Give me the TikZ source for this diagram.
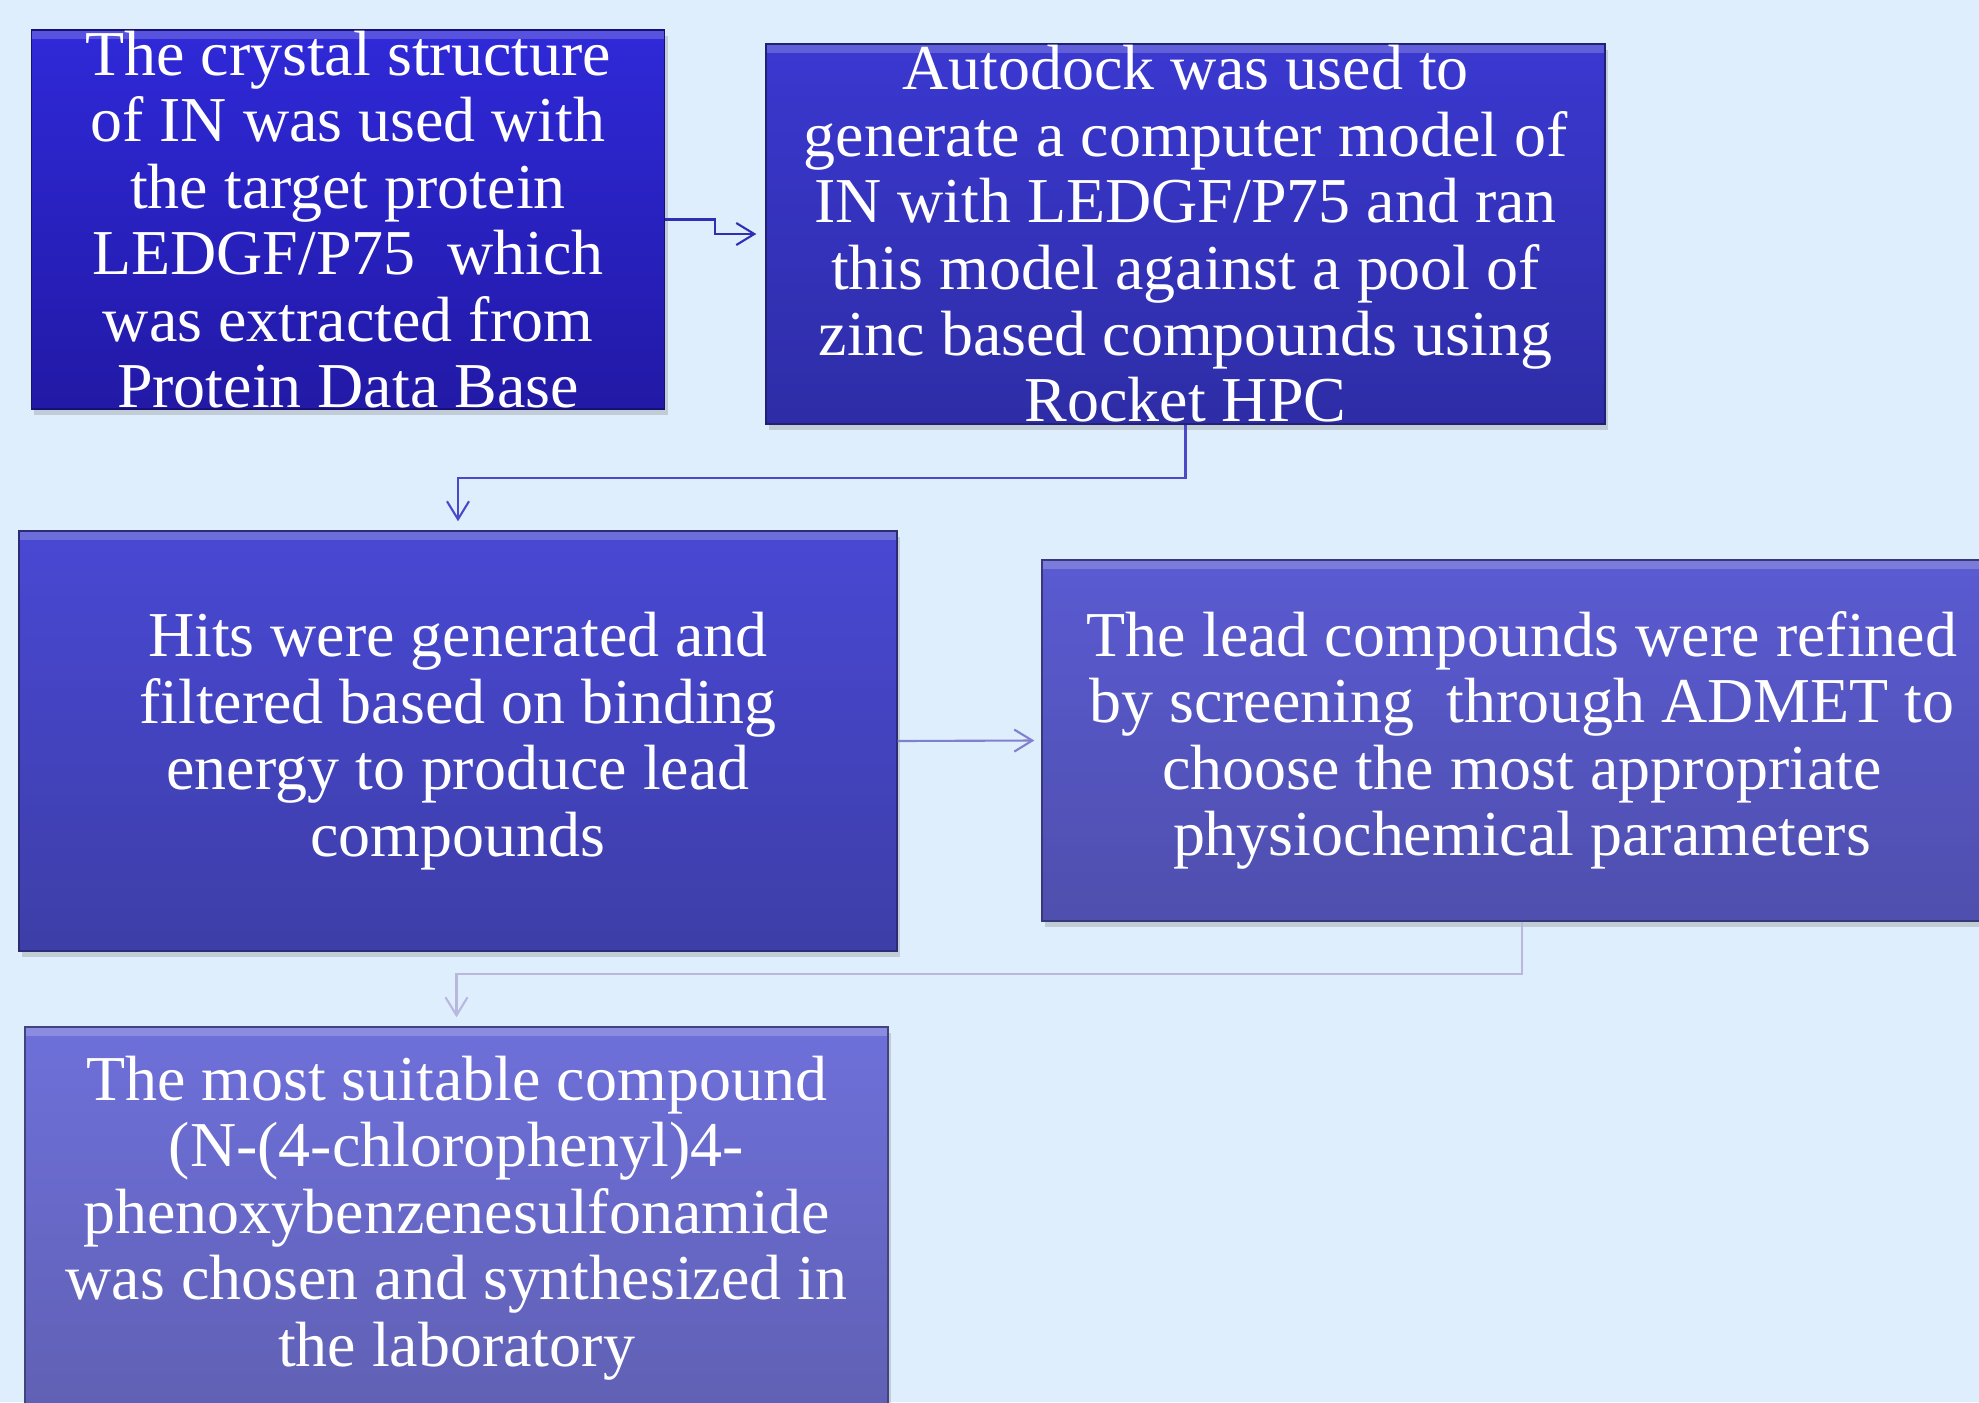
\documentclass[tikz,border=0pt]{standalone}
\usepackage{fontspec}
\setmainfont{Liberation Serif}
\usetikzlibrary{positioning, arrows.meta, shadows}
\definecolor{bgblue}{HTML}{DEEEFD}
\definecolor{oneTop}{HTML}{2F29D8}
\definecolor{oneBot}{HTML}{2219A6}
\definecolor{twoTop}{HTML}{3A38D0}
\definecolor{twoBot}{HTML}{2E2DA6}
\definecolor{threeTop}{HTML}{4848D4}
\definecolor{threeBot}{HTML}{3E3EA8}
\definecolor{fourTop}{HTML}{5A5AD2}
\definecolor{fourBot}{HTML}{4F4FAE}
\definecolor{fiveTop}{HTML}{6E70DA}
\definecolor{fiveBot}{HTML}{6060B4}
\newcommand{\boxfont}{\fontsize{18.2}{18.9}\selectfont}

\begin{document}
\begin{tikzpicture}[
		x=1cm, y=-1cm,
		box/.style n args={2}{draw=#2!70!black, line width=0.4pt, rectangle, align=center, text=white, font=\boxfont, inner sep=0pt, top color=#1, bottom color=#2,
			execute at begin node={\rule{0pt}{15.8pt}},
			drop shadow={opacity=0.3, shadow xshift=0.03cm, shadow yshift=-0.06cm},
			path picture={\fill[white, opacity=0.2] (path picture bounding box.north west) rectangle ([yshift=-0.09cm]path picture bounding box.north east);}},
		arrow/.style={-{Straight Barb[length=0.18cm, width=0.22cm]}, line width=0.6pt}
		]
		
		\fill[bgblue] (0,0) rectangle (19.79,14.02);
		\useasboundingbox (0,0) rectangle (19.79,14.02);
		
		% Define Nodes
		\node[box={oneTop}{oneBot}, minimum width=6.33cm, minimum height=3.79cm] (crystal) at (3.48,2.195) {The crystal structure \\ of IN was used with \\ the target protein \\ LEDGF/P75~~which \\ was extracted from \\ Protein Data Base};
		
		\node[box={twoTop}{twoBot}, minimum width=8.39cm, minimum height=3.80cm] (autodock) at (11.855,2.34) {Autodock was used to \\ generate a computer model of \\ IN with LEDGF/P75 and ran \\ this model against a pool of \\ zinc based compounds using \\ Rocket HPC};
		
		\node[box={threeTop}{threeBot}, minimum width=8.78cm, minimum height=4.20cm] (hits) at (4.58,7.41) {Hits were generated and \\ filtered based on binding \\ energy to produce lead \\ compounds};
		
		\node[box={fourTop}{fourBot}, minimum width=9.6cm, minimum height=3.61cm] (admet) at (15.22,7.405) {The lead compounds were refined \\ by screening~~through ADMET to \\ choose the most appropriate \\ physiochemical parameters};
		
		\node[box={fiveTop}{fiveBot}, minimum width=8.63cm, minimum height=3.82cm] (chosen) at (4.565,12.18) {The most suitable compound \\ (N-(4-chlorophenyl)4- \\ phenoxybenzenesulfonamide \\ was chosen and synthesized in \\ the laboratory};
		
		% Draw connectors
		\draw[arrow, color={rgb,255:red,47;green,47;blue,181}] (crystal.east) -- ++(0.5,0) |- ([xshift=-0.09cm]autodock.west);
		\draw[arrow, color={rgb,255:red,74;green,74;blue,200}] (autodock.south) -- ++(0,0.537) -| ([yshift=0.09cm]hits.north);
		\draw[arrow, color={rgb,255:red,128;green,128;blue,204}] (hits.east) -- ([xshift=-0.07cm]admet.west);
		\draw[arrow, color={rgb,255:red,184;green,184;blue,220}] (admet.south) -- ++(0,0.52) -| ([yshift=0.09cm]chosen.north);
		
	\end{tikzpicture}
\end{document}
